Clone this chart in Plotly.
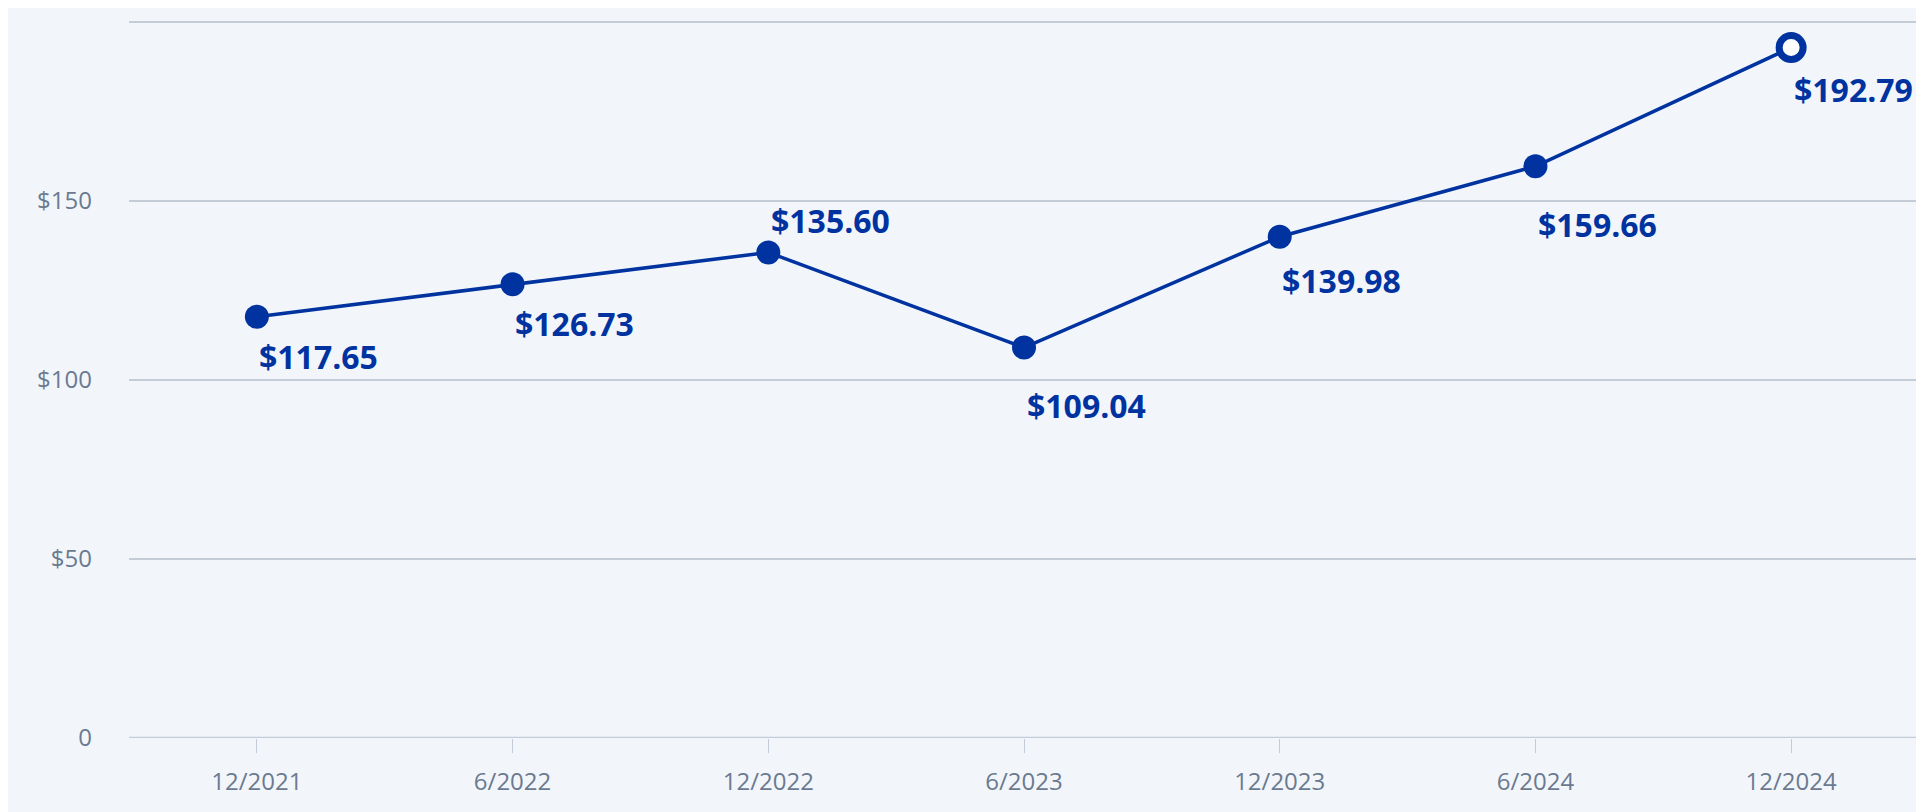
import plotly.graph_objects as go

dates = ["12/2021", "6/2022", "12/2022", "6/2023", "12/2023", "6/2024", "12/2024"]
values = [117.65, 126.73, 135.60, 109.04, 139.98, 159.66, 192.79]
label_dy = [-40, -39, 32, -58, -44, -58, -42]

BLUE = "#0033a0"
BG = "#f2f6fa"
x = list(range(len(dates)))

fig = go.Figure()
fig.add_trace(go.Scatter(
    x=x, y=values, mode="lines+markers",
    line=dict(color=BLUE, width=3.5),
    marker=dict(size=24, color=[BLUE] * 6 + ["white"],
                line=dict(color=BLUE, width=[0] * 6 + [7])),
    hoverinfo="skip", cliponaxis=False,
))
for i, v in enumerate(values):
    fig.add_annotation(x=i, y=v, text=f"${v:.2f}", showarrow=False,
                       xshift=62, yshift=label_dy[i],
                       font=dict(family="Open Sans", size=32, color=BLUE, weight=700))

fig.update_layout(
    width=1924, height=812,
    paper_bgcolor=BG, plot_bgcolor=BG,
    margin=dict(l=121, r=13, t=12, b=82),
    showlegend=False,
    font=dict(family="Open Sans", color="#6b7a90", size=24),
)
fig.update_xaxes(range=[-0.5, 6.5], tickmode="array", tickvals=x, ticktext=dates,
                 showgrid=False, zeroline=False, showline=False,
                 ticks="outside", ticklen=14, tickcolor="#c4ccd8", ticklabelstandoff=8)
fig.update_yaxes(range=[0, 200.5], tickvals=[0, 50, 100, 150, 200],
                 ticktext=["0", "$50", "$100", "$150", "$200"],
                 gridcolor="#c4ccd8", gridwidth=1.5, zeroline=False, showline=False,
                 ticklabelstandoff=36)
fig.add_shape(type="line", xref="paper", yref="y", x0=0, x1=1, y0=0, y1=0,
              line=dict(color="#c4ccd8", width=2.5))
fig.write_html("out.html")
